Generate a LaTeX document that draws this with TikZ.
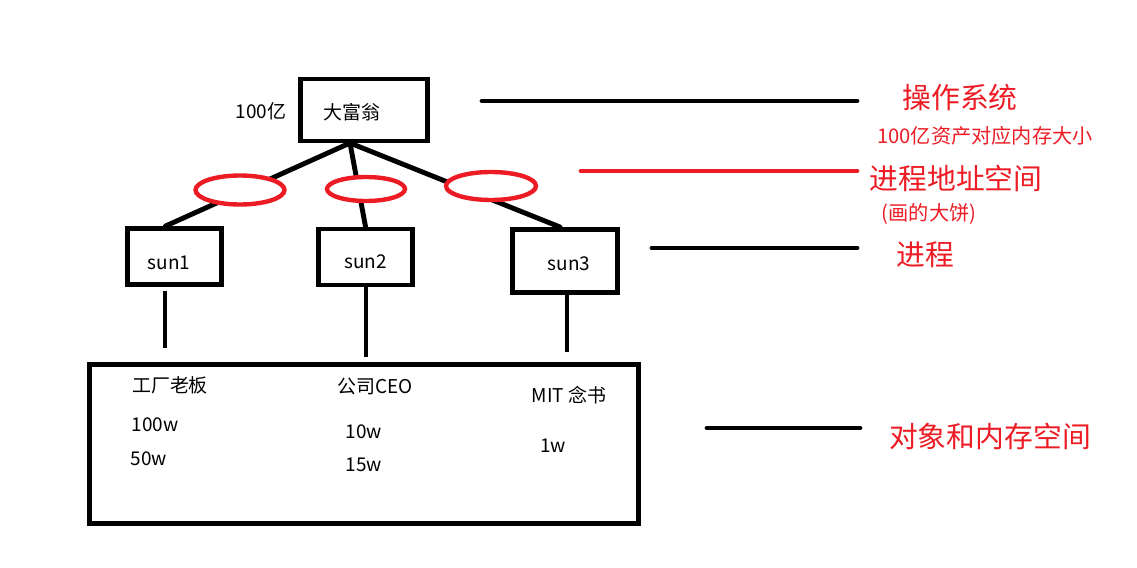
\documentclass[tikz,border=0pt]{standalone}
\usepackage{fontspec}
\setmainfont{Noto Sans CJK SC}
\usetikzlibrary{positioning,shapes.geometric}
\definecolor{Mark}{HTML}{ED1C24}

\begin{document}
\begin{tikzpicture}[x=0.02cm,y=-0.02cm,
    box/.style={draw=black,line width=2.8pt,inner sep=0pt},
    wire/.style={line width=2.8pt,black,line cap=round},
    space/.style={ellipse,draw=Mark,fill=white,line width=2.5pt,inner sep=0pt},
    note/.style={text=Mark,font=\fontsize{16.4}{20}\selectfont},
    small/.style={text=Mark,font=\fontsize{11.5}{14}\selectfont},
    txt/.style={font=\fontsize{10.8}{13}\selectfont}
  ]
    \useasboundingbox (0,0) rectangle (1137,568);
    % tree
    \node[box,minimum width=2.54cm,minimum height=1.24cm,
      label={[txt,xshift=-0.24cm,yshift=-0.04cm]center:大富翁}] (dfw) at (364,110) {};
    \node[txt] (money) at (261,111) {100亿};
    \node[box,minimum width=1.88cm,minimum height=1.12cm,
      label={[txt,xshift=-0.11cm,yshift=-0.13cm]center:sun1}] (sun1) at (174.5,256.5) {};
    \node[box,minimum width=1.88cm,minimum height=1.12cm,
      label={[txt,yshift=-0.1cm]center:sun2}] (sun2) at (365.5,257) {};
    \node[box,minimum width=2.1cm,minimum height=1.26cm,
      label={[txt,xshift=0.08cm,yshift=-0.06cm]center:sun3}] (sun3) at (565,261) {};
    \coordinate (root) at (350,143);
    \draw[wire] (root) -- ([xshift=-0.18cm]sun1.north);
    \draw[wire] (root) -- (sun2.north);
    \draw[wire] (root) -- ([xshift=-0.1cm]sun3.north);
    \node[space,minimum width=1.78cm,minimum height=0.58cm] (e1) at (240,190) {};
    \node[space,minimum width=1.56cm,minimum height=0.48cm] (e2) at (366,189) {};
    \node[space,minimum width=1.8cm,minimum height=0.56cm] (e3) at (491,186) {};
    % memory
    \node[box,minimum width=10.98cm,minimum height=3.18cm] (mem) at (364,444) {};
    \coordinate (m1) at (165,348);
    \coordinate (m2) at (366,357);
    \coordinate (m3) at (567,352);
    \draw[wire,line cap=butt] (m1 |- sun1.south) ++(0,4) -- (m1);
    \draw[wire,line cap=butt] (m2 |- sun2.south) -- (m2);
    \draw[wire,line cap=butt] (m3 |- sun3.south) -- (m3);
    \node[txt] (boss) at (170,385) {工厂老板};
    \node[txt] (boss1) at (155,425) {100w};
    \node[txt] (boss2) at (149,459) {50w};
    \node[txt] (ceo) at (375,386) {公司CEO};
    \node[txt] (ceo1) at (364,432) {10w};
    \node[txt] (ceo2) at (364,465) {15w};
    \node[txt] (mit) at (569,395) {MIT 念书};
    \node[txt] (mit1) at (553,446) {1w};
    % legend
    \node[note] (os) at (960,98) {操作系统};
    \node[small] (osnote) at (985,136) {100亿资产对应内存大小};
    \node[note] (vas) at (956,178) {进程地址空间};
    \node[small] (vasnote) at (929,214) {(画的大饼)};
    \node[note] (proc) at (925,255) {进程};
    \node[note] (obj) at (990,436) {对象和内存空间};
    \coordinate (a1) at (482,101);
    \coordinate (b1) at (857,101);
    \coordinate (a2) at (581,171);
    \coordinate (b2) at (857,171);
    \coordinate (a3) at (652,248);
    \coordinate (b3) at (857,248);
    \coordinate (a4) at (707,428);
    \coordinate (b4) at (860,428);
    \draw[wire] (a1) -- (b1);
    \draw[wire,Mark] (a2) -- (b2);
    \draw[wire] (a3) -- (b3);
    \draw[wire] (a4) -- (b4);
  \end{tikzpicture}
\end{document}
